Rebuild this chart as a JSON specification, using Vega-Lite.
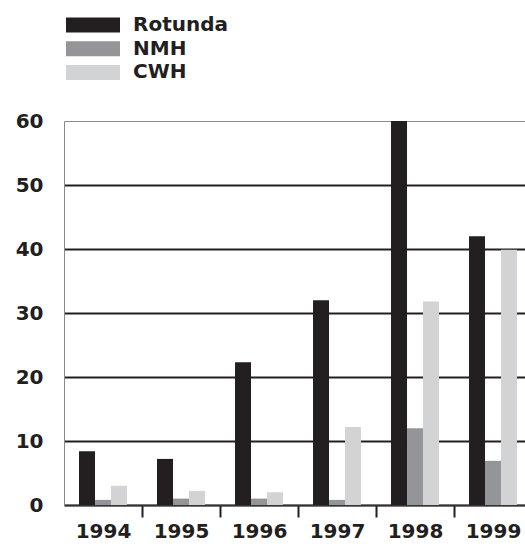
{
  "$schema": "https://vega.github.io/schema/vega-lite/v6.json",
  "autosize": {"type": "none"},
  "padding": {"left": 64, "top": 121, "right": 0, "bottom": 43},
  "width": 461,
  "height": 384,
  "background": "white",
  "config": {"view": {"stroke": null}, "font": "DejaVu Sans"},
  "data": {
    "values": [
      {"year": "1994", "series": "Rotunda", "value": 8.4},
      {"year": "1994", "series": "NMH", "value": 0.8},
      {"year": "1994", "series": "CWH", "value": 3.0},
      {"year": "1995", "series": "Rotunda", "value": 7.2},
      {"year": "1995", "series": "NMH", "value": 1.0},
      {"year": "1995", "series": "CWH", "value": 2.2},
      {"year": "1996", "series": "Rotunda", "value": 22.3},
      {"year": "1996", "series": "NMH", "value": 1.0},
      {"year": "1996", "series": "CWH", "value": 2.0},
      {"year": "1997", "series": "Rotunda", "value": 32.0},
      {"year": "1997", "series": "NMH", "value": 0.8},
      {"year": "1997", "series": "CWH", "value": 12.2},
      {"year": "1998", "series": "Rotunda", "value": 60},
      {"year": "1998", "series": "NMH", "value": 12.0},
      {"year": "1998", "series": "CWH", "value": 31.8},
      {"year": "1999", "series": "Rotunda", "value": 42.0},
      {"year": "1999", "series": "NMH", "value": 6.9},
      {"year": "1999", "series": "CWH", "value": 39.9}
    ]
  },
  "mark": {"type": "bar"},
  "encoding": {
    "x": {
      "field": "year",
      "type": "ordinal",
      "scale": {"range": [0, 468], "paddingInner": 0.385, "paddingOuter": 0.1923},
      "axis": {
        "title": null,
        "labelAngle": 0,
        "labelFont": "DejaVu Sans",
        "labelFontWeight": "bold",
        "labelFontSize": 20,
        "labelColor": "#231f20",
        "labelPadding": 4,
        "labelOffset": -15,
        "tickSize": 12,
        "tickWidth": 2,
        "tickColor": "#231f20",
        "bandPosition": 1,
        "tickExtra": false,
        "tickOffset": 15,
        "domainColor": "#333333",
        "domainWidth": 1.5,
        "grid": false
      }
    },
    "xOffset": {
      "field": "series",
      "sort": ["Rotunda", "NMH", "CWH"],
      "scale": {"paddingInner": 0, "paddingOuter": 0}
    },
    "y": {
      "field": "value",
      "type": "quantitative",
      "scale": {"domain": [0, 60], "nice": false},
      "axis": {
        "title": null,
        "values": [0, 10, 20, 30, 40, 50, 60],
        "ticks": false,
        "labelFont": "DejaVu Sans",
        "labelFontSize": 20,
        "labelFontWeight": "bold",
        "labelColor": "#231f20",
        "labelPadding": 21,
        "grid": true,
        "gridColor": {"condition": {"test": "datum.value === 60", "value": "#8a8a8a"}, "value": "#231f20"},
        "gridWidth": {"condition": {"test": "datum.value === 60", "value": 1}, "value": 2},
        "domainColor": "#8a8a8a",
        "domainWidth": 1
      }
    },
    "color": {
      "field": "series",
      "type": "nominal",
      "sort": ["Rotunda", "NMH", "CWH"],
      "scale": {"domain": ["Rotunda", "NMH", "CWH"], "range": ["#231f20", "#939598", "#d1d3d4"]},
      "legend": {
        "title": null,
        "orient": "none",
        "legendX": 2,
        "legendY": -106,
        "direction": "vertical",
        "padding": 0,
        "symbolType": "M-3.6,-1H3.6V1H-3.6Z",
        "symbolSize": 225,
        "symbolStrokeWidth": 0,
        "symbolOpacity": 1,
        "symbolOffset": 17,
        "labelFont": "DejaVu Sans",
        "labelFontSize": 20,
        "labelFontWeight": "bold",
        "labelColor": "#231f20",
        "labelOffset": 30,
        "rowPadding": 3.7
      }
    }
  }
}
